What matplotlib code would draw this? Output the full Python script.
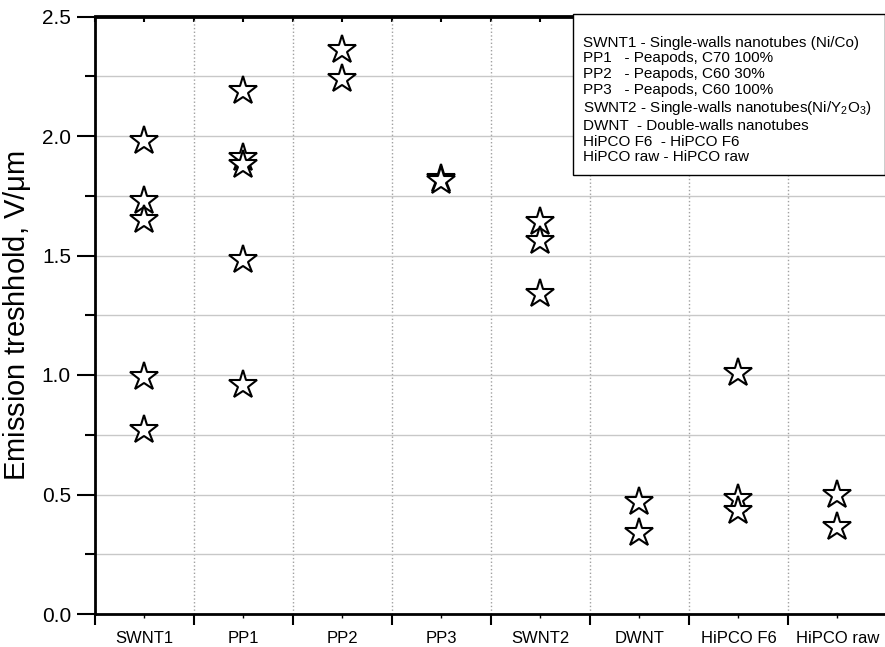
import numpy as np
import matplotlib.pyplot as plt
from matplotlib.ticker import MultipleLocator, FixedLocator

plt.rcParams['font.family'] = ['Liberation Sans', 'DejaVu Sans']
plt.rcParams['mathtext.default'] = 'regular'

# samples and measured emission thresholds (V/um)
samples = ['SWNT1', 'PP1', 'PP2', 'PP3', 'SWNT2', 'DWNT', 'HiPCO F6', 'HiPCO raw']
swnt1 = [1.98, 1.73, 1.65, 0.99, 0.77]
pp1 = [2.19, 1.91, 1.88, 1.48, 0.96]
pp2 = [2.36, 2.24]
pp3 = [1.82, 1.81]
swnt2 = [1.64, 1.56, 1.34]
dwnt = [0.47, 0.34]
hipco_f6 = [1.01, 0.48, 0.43]
hipco_raw = [0.50, 0.365]
values = [swnt1, pp1, pp2, pp3, swnt2, dwnt, hipco_f6, hipco_raw]

legend_lines = [
    'SWNT1 - Single-walls nanotubes (Ni/Co)',
    'PP1   - Peapods, C70 100%',
    'PP2   - Peapods, C60 30%',
    'PP3   - Peapods, C60 100%',
    'SWNT2 - Single-walls nanotubes(Ni/Y$_2$O$_3$)',
    'DWNT  - Double-walls nanotubes',
    'HiPCO F6  - HiPCO F6',
    'HiPCO raw - HiPCO raw',
]

fig = plt.figure(figsize=(8.85, 6.47), dpi=100)
ax = fig.add_axes([94.5/885, 33/647, (887-94.5)/885, (614-16.5)/647])

for i, vals in enumerate(values):
    ax.plot([i]*len(vals), vals, linestyle='none', marker='*', markersize=21,
            markerfacecolor='white', markeredgecolor='black', markeredgewidth=1.5, zorder=3)

ax.set_xlim(-0.5, 7.5)
ax.set_ylim(0, 2.5)

ax.set_xticks(range(len(samples)))
ax.set_xticklabels(samples, fontsize=12)
ax.xaxis.set_minor_locator(FixedLocator(np.arange(-0.5, 8, 1)))
ax.tick_params(axis='x', which='major', length=3, width=1, pad=9)
ax.tick_params(axis='x', which='minor', length=8, width=1.5)

ax.yaxis.set_major_locator(MultipleLocator(0.5))
ax.yaxis.set_minor_locator(MultipleLocator(0.25))
ax.yaxis.set_major_formatter(plt.FormatStrFormatter('%.1f'))
ax.tick_params(axis='y', which='major', length=13, width=1.5, labelsize=15, pad=4)
ax.tick_params(axis='y', which='minor', length=7, width=1.5)
ax.set_ylabel('Emission treshhold, V/$\\mu$m', fontsize=21)
ax.yaxis.set_label_coords(-0.077, 0.5)

ax.grid(axis='y', which='both', color='#c8c8c8', linewidth=1)
ax.grid(axis='x', which='minor', color='#a0a0a0', linestyle=':', linewidth=1)
ax.grid(axis='x', which='major', visible=False)
ax.set_axisbelow(True)

for s in ['left', 'bottom', 'top']:
    ax.spines[s].set_linewidth(2)
ax.spines['right'].set_visible(False)

top = ax.secondary_xaxis('top')
top.set_xticks(np.arange(-0.5, 8, 0.5))
top.tick_params(direction='in', length=4, width=1.5, labelbottom=False, labeltop=False)
top.spines['top'].set_linewidth(2)

# legend box with descriptions
ax.add_patch(plt.Rectangle((0.604, 0.735), 0.394, 0.27, transform=ax.transAxes,
                           facecolor='white', edgecolor='black', linewidth=1, zorder=4, clip_on=False))
ax.text(0.617, 0.968, '\n'.join(legend_lines), transform=ax.transAxes, fontsize=11,
        va='top', ha='left', linespacing=1.16, zorder=5)

fig.savefig('out.png', dpi=100)
